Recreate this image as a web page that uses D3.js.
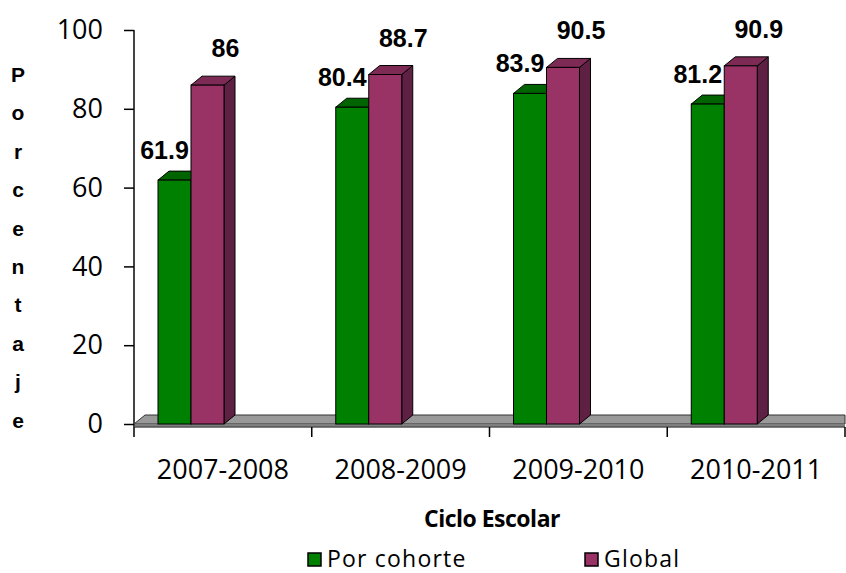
<!DOCTYPE html>
<html>
<head>
<meta charset="utf-8">
<script src="https://cdn.jsdelivr.net/npm/d3@7"></script>
<style>
  body { margin: 0; background: #fff; }
  svg { display: block; background: #fff; }
</style>
</head>
<body>
<svg id="chart"></svg>
<script>
// data
const categories = ['2007-2008', '2008-2009', '2009-2010', '2010-2011'];
const seriesNames = ['Por cohorte', 'Global'];
const porCohorte = [61.9, 80.4, 83.9, 81.2];
const global = [86, 88.7, 90.5, 90.9];
const yTicks = [0, 20, 40, 60, 80, 100];

const width = 846;
const height = 573;
const depth = { dx: 11, dy: 9 };

const svg = d3.select('#chart')
  .attr('width', width)
  .attr('height', height);

// scales
const x = d3.scaleBand()
  .domain(categories)
  .range([134, 845])
  .padding(0);

const xInner = d3.scaleBand()
  .domain(seriesNames)
  .range([24, 90])
  .padding(0);

const y = d3.scaleLinear()
  .domain([0, 100])
  .range([424, 30]);

const colors = {
  'Por cohorte': { front: '#008000', top: '#006400', side: '#004d00' },
  'Global': { front: '#993366', top: '#7d2a55', side: '#5e2043' }
};

const y0 = y(0);

// floor
svg.append('polygon')
  .attr('points', [
    [x.range()[0], y0],
    [x.range()[0] + depth.dx, y0 - depth.dy],
    [x.range()[1], y0 - depth.dy],
    [x.range()[1], y0]
  ].map(p => p.join(',')).join(' '))
  .attr('fill', '#999999')
  .attr('stroke', '#333')
  .attr('stroke-width', 1);

svg.append('rect')
  .attr('x', x.range()[0])
  .attr('y', y0)
  .attr('width', x.range()[1] - x.range()[0])
  .attr('height', 3)
  .attr('fill', '#7f7f7f');

// y axis
const yAxis = svg.append('g')
  .attr('transform', 'translate(134,0)')
  .call(d3.axisLeft(y).tickValues(yTicks).tickSize(10).tickPadding(21));

yAxis.select('.domain')
  .attr('d', `M0,${y(100)}V${y0 + 3}`)
  .attr('stroke', '#444')
  .attr('stroke-width', 2);

yAxis.selectAll('.tick line').attr('stroke', '#000').attr('stroke-width', 1.5);
yAxis.selectAll('.tick text')
  .attr('font-family', '"Open Sans", sans-serif')
  .attr('font-size', 27)
  .attr('fill', '#000');

// x axis line and boundary ticks
svg.append('line')
  .attr('x1', x.range()[0])
  .attr('x2', x.range()[1])
  .attr('y1', y0 + 3)
  .attr('y2', y0 + 3)
  .attr('stroke', '#555')
  .attr('stroke-width', 1.5);

const boundaries = categories.map(c => x(c)).concat([x.range()[1]]);
svg.selectAll('.xtick')
  .data(boundaries)
  .enter().append('line')
  .attr('class', 'xtick')
  .attr('x1', d => d)
  .attr('x2', d => d)
  .attr('y1', y0 + 3)
  .attr('y2', y0 + 13)
  .attr('stroke', '#000')
  .attr('stroke-width', 1.5);

svg.selectAll('.xlabel')
  .data(categories)
  .enter().append('text')
  .attr('class', 'xlabel')
  .attr('x', d => x(d) + x.bandwidth() / 2)
  .attr('y', 479)
  .attr('text-anchor', 'middle')
  .attr('font-family', '"Open Sans", sans-serif')
  .attr('font-size', 27)
  .attr('fill', '#000')
  .text(d => d);

// bars
const barData = [];
seriesNames.forEach((s, si) => {
  const vals = si === 0 ? porCohorte : global;
  categories.forEach((c, ci) => barData.push({ series: s, cat: c, value: vals[ci] }));
});

const bw = xInner.bandwidth();
const bars = svg.selectAll('.bar')
  .data(barData)
  .enter().append('g')
  .attr('class', 'bar');

bars.append('polygon')
  .attr('points', d => {
    const bx = x(d.cat) + xInner(d.series) + bw;
    const top = y(d.value);
    return [[bx, top], [bx + depth.dx, top - depth.dy], [bx + depth.dx, y0 - depth.dy], [bx, y0]]
      .map(p => p.join(',')).join(' ');
  })
  .attr('fill', d => colors[d.series].side)
  .attr('stroke', '#000')
  .attr('stroke-width', 1);

bars.append('polygon')
  .attr('points', d => {
    const bx = x(d.cat) + xInner(d.series);
    const top = y(d.value);
    return [[bx, top], [bx + depth.dx, top - depth.dy], [bx + bw + depth.dx, top - depth.dy], [bx + bw, top]]
      .map(p => p.join(',')).join(' ');
  })
  .attr('fill', d => colors[d.series].top)
  .attr('stroke', '#000')
  .attr('stroke-width', 1);

bars.append('rect')
  .attr('x', d => x(d.cat) + xInner(d.series))
  .attr('y', d => y(d.value))
  .attr('width', bw)
  .attr('height', d => y0 - y(d.value))
  .attr('fill', d => colors[d.series].front)
  .attr('stroke', '#000')
  .attr('stroke-width', 1);

// value labels
const labelOffset = { 'Por cohorte': { dx: -10, dy: -21 }, 'Global': { dx: 18, dy: -28 } };
svg.selectAll('.vlabel')
  .data(barData)
  .enter().append('text')
  .attr('class', 'vlabel')
  .attr('x', d => x(d.cat) + xInner(d.series) + bw / 2 + labelOffset[d.series].dx)
  .attr('y', d => y(d.value) + labelOffset[d.series].dy)
  .attr('text-anchor', 'middle')
  .attr('font-family', '"Liberation Sans", Arial, sans-serif')
  .attr('font-weight', 'bold')
  .attr('font-size', 25)
  .attr('fill', '#000')
  .text(d => d.value);

// vertical y-axis title, one letter per line
const yTitle = 'Porcentaje'.split('');
svg.selectAll('.ytitle')
  .data(yTitle)
  .enter().append('text')
  .attr('class', 'ytitle')
  .attr('x', 18)
  .attr('y', (d, i) => 82 + i * 38.4)
  .attr('text-anchor', 'middle')
  .attr('font-family', '"Liberation Sans", Arial, sans-serif')
  .attr('font-weight', 'bold')
  .attr('font-size', 21)
  .attr('fill', '#000')
  .text(d => d);

// x-axis title
svg.append('text')
  .attr('x', 492)
  .attr('y', 527)
  .attr('text-anchor', 'middle')
  .attr('font-family', '"Open Sans", sans-serif')
  .attr('font-weight', 'bold')
  .attr('font-size', 23)
  .attr('letter-spacing', -0.5)
  .attr('fill', '#000')
  .text('Ciclo Escolar');

// legend
const legendX = [308, 585];
const legend = svg.selectAll('.legend')
  .data(seriesNames)
  .enter().append('g')
  .attr('class', 'legend')
  .attr('transform', (d, i) => `translate(${legendX[i]},553)`);

legend.append('rect')
  .attr('width', 13)
  .attr('height', 13)
  .attr('fill', d => colors[d].front)
  .attr('stroke', '#000')
  .attr('stroke-width', 1.5);

legend.append('text')
  .attr('x', 19)
  .attr('y', 14)
  .attr('font-family', '"Open Sans", sans-serif')
  .attr('font-size', 23)
  .attr('letter-spacing', 1.2)
  .attr('fill', '#000')
  .text(d => d);
</script>
</body>
</html>
